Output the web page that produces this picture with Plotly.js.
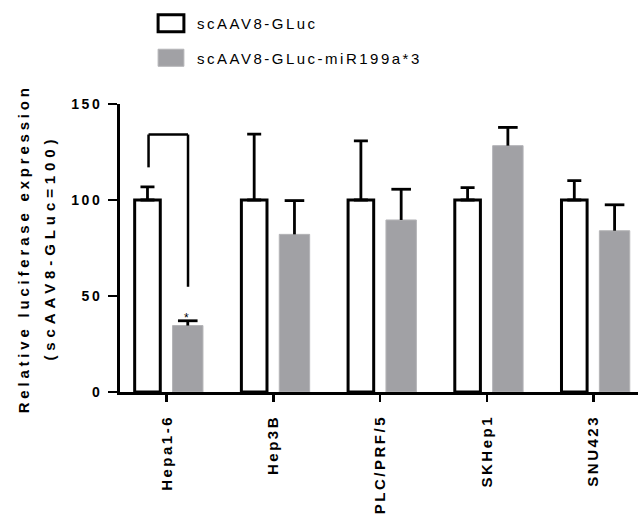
<!DOCTYPE html>
<html>
<head>
<meta charset="utf-8">
<script src="https://cdn.plot.ly/plotly-3.0.1.min.js"></script>
<style>
html,body{margin:0;padding:0;background:#fff;overflow:hidden}
#chart{width:638px;height:515px}
.xtick text{letter-spacing:2.5px}
.ytick text{letter-spacing:2.5px}
g.annotation[data-index="1"] text{letter-spacing:4.9px}
g.annotation[data-index="2"] text{letter-spacing:3.8px}
.legendtext{letter-spacing:2.5px}
.legendpoints path{transform:translate(20px,0) scale(2.15,1.42);vector-effect:non-scaling-stroke}
</style>
</head>
<body>
<div id="chart"></div>
<script>
// ---- data ----
const categories = ['Hepa1-6', 'Hep3B', 'PLC/PRF/5', 'SKHep1', 'SNU423'];
const seriesNames = ['scAAV8-GLuc', 'scAAV8-GLuc-miR199a*3'];
const controlValues = [100, 100, 100, 100, 100];
const controlErrors = [6.8, 34.3, 30.8, 6.4, 10.1];
const mirValues = [34.6, 82.1, 89.6, 128.3, 84.0];
const mirErrors = [2.5, 17.6, 16.0, 9.5, 13.5];
const yTickVals = [0, 50, 100, 150];
const yTitleLine1 = 'Relative luciferase expression';
const yTitleLine2 = '(scAAV8-GLuc=100)';
// significance bracket (Hepa1-6): heights in data units
const bracketTop = 134.1;
const bracketLeftBottom = 117;
const bracketRightBottom = 54.8;
const starY = 38.5;

// ---- layout helpers (positions/styles) ----
const idx = categories.map((_, i) => i);
const zeros = controlValues.map(() => 0);
const W_OFF = -0.30, W_WID = 0.24;
const G_OFF = 0.055, G_WID = 0.285;
const gCenter = G_OFF + G_WID / 2;
const GREY = '#a1a1a5';
const FONT = 'Liberation Sans, Arial, sans-serif';
const titleFont = {family: FONT, size: 15, weight: 'bold', color: '#000000'};

const traces = [
  {
    type: 'bar', name: seriesNames[0], legendgroup: 'a',
    x: idx, y: controlValues,
    offset: W_OFF, width: W_WID,
    marker: {color: '#ffffff', line: {color: '#000000', width: 3}},
    error_y: {type: 'data', symmetric: false, array: controlErrors, arrayminus: zeros,
              color: '#000000', thickness: 2.8, width: 7},
    hoverinfo: 'none'
  },
  {
    type: 'bar', name: seriesNames[1], legendgroup: 'b',
    x: idx, y: mirValues,
    offset: G_OFF, width: G_WID,
    marker: {color: GREY, line: {color: '#b4b4b7', width: 1}},
    hoverinfo: 'none'
  },
  {
    // error bars for the grey series (upper whisker + cap only)
    type: 'scatter', mode: 'markers', showlegend: false, legendgroup: 'b',
    x: idx.map(i => i + gCenter),
    y: mirValues.map((v, k) => v + mirErrors[k]),
    marker: {symbol: 'line-ew', size: 14, color: '#000000', line: {color: '#000000', width: 2.8}},
    error_y: {type: 'data', symmetric: false, array: zeros, arrayminus: mirErrors,
              color: '#000000', thickness: 2.8, width: 0},
    hoverinfo: 'none', cliponaxis: false
  }
];

const bx0 = -0.17, bx1 = 0.2;
const lineStyle = {color: '#000000', width: 2.5};

const layout = {
  width: 638, height: 515,
  margin: {l: 120, r: 0, t: 104.3, b: 123.3, pad: 0, autoexpand: false},
  paper_bgcolor: '#ffffff', plot_bgcolor: '#ffffff',
  font: {family: FONT, color: '#000000'},
  barmode: 'overlay',
  showlegend: true,
  legend: {
    xref: 'container', yref: 'container',
    x: 151/638, y: 1 - 7/515, xanchor: 'left', yanchor: 'top',
    font: {family: FONT, size: 15, color: '#000000'},
    tracegroupgap: 12, itemwidth: 36, bgcolor: 'rgba(0,0,0,0)'
  },
  xaxis: {
    type: 'linear', range: [-0.4375, 4.417], automargin: false,
    tickmode: 'array', tickvals: idx, ticktext: categories,
    showline: true, linecolor: '#000000', linewidth: 3,
    ticks: 'outside', ticklen: 7, tickwidth: 2.5, tickcolor: '#000000',
    tickangle: -90, showgrid: false, zeroline: false,
    tickfont: {family: FONT, size: 15, weight: 'bold', color: '#000000'},
    ticklabelstandoff: 7
  },
  yaxis: {
    range: [0, 150], tickmode: 'array', tickvals: yTickVals, automargin: false,
    showline: true, linecolor: '#000000', linewidth: 3,
    ticks: 'outside', ticklen: 9, tickwidth: 2.5, tickcolor: '#000000',
    showgrid: false, zeroline: false,
    tickfont: {family: FONT, size: 14, weight: 'bold', color: '#000000'},
    ticklabelstandoff: 3
  },
  shapes: [
    {type: 'line', xref: 'x', yref: 'y', x0: bx0, x1: bx0, y0: bracketLeftBottom, y1: bracketTop, line: lineStyle},
    {type: 'line', xref: 'x', yref: 'y', x0: bx0, x1: bx1, y0: bracketTop, y1: bracketTop, line: lineStyle},
    {type: 'line', xref: 'x', yref: 'y', x0: bx1, x1: bx1, y0: bracketTop, y1: bracketRightBottom, line: lineStyle}
  ],
  annotations: [
    {xref: 'x', yref: 'y', x: gCenter - 0.015, y: starY, text: '*', showarrow: false,
     font: {family: FONT, size: 12, color: '#000000'}, xanchor: 'center', yanchor: 'middle'},
    {xref: 'paper', yref: 'paper', x: (49.5 - 120) / 518, y: 0.502, text: yTitleLine2, showarrow: false,
     textangle: -90, font: titleFont, xanchor: 'center', yanchor: 'middle'},
    {xref: 'paper', yref: 'paper', x: (23.5 - 120) / 518, y: 0.497, text: yTitleLine1, showarrow: false,
     textangle: -90, font: titleFont, xanchor: 'center', yanchor: 'middle'}
  ]
};

Plotly.newPlot('chart', traces, layout, {staticPlot: true, displayModeBar: false});
</script>
</body>
</html>
